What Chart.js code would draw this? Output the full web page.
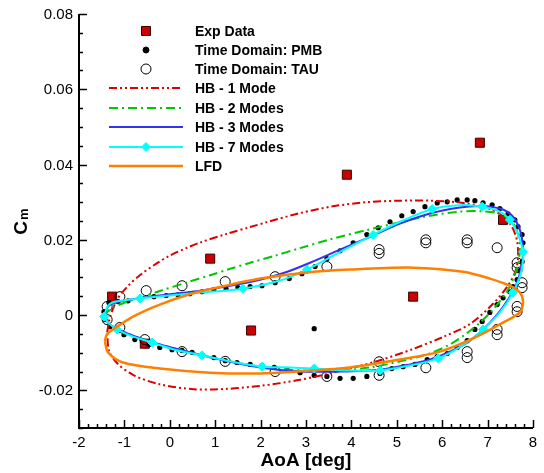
<!DOCTYPE html>
<html>
<head>
<meta charset="utf-8">
<script src="https://cdn.jsdelivr.net/npm/chart.js@4/dist/chart.umd.min.js"></script>
<style>
  html, body { margin: 0; padding: 0; background: #fff; }
</style>
</head>
<body>
<canvas id="chart" width="544" height="473"></canvas>
<script>
//--- Data (AoA in deg, Cm).
const expAoA = [-1.27, -0.55, 0.89, 1.79, 3.90, 5.36, 6.83, 7.34];
const expCm = [0.0049, -0.0076, 0.0150, -0.0041, 0.0373, 0.0049, 0.0458, 0.0253];

const pmbAoA = [-1.45, -1.34, -1.14, -0.92, -0.66, -0.35, -0.08, 0.18, 0.44, 0.71, 0.97, 1.24, 1.50, 1.77, 2.03, 2.32, 2.63, 2.91, 3.20, 3.46, 3.75, 4.04, 4.34, 4.59, 4.85, 5.11, 5.36, 5.62, 5.89, 6.11, 6.33, 6.55, 6.72, 6.90, 7.10, 7.27, 7.45, 7.60, 7.67, 7.76, 7.78, 7.78, 7.76, 7.71, 7.65, 7.56, 7.49, 7.34, 7.21, 7.05, 6.88, 6.72, 6.55, 6.33, 6.11, 5.89, 5.67, 5.40, 5.14, 4.89, 4.63, 4.34, 4.04, 3.75, 3.46, 3.18, 2.87, 2.58, 2.30, 2.03, 1.77, 1.48, 1.22, 0.97, 0.73, 0.49, 0.27, 0.05, -0.22, -0.46, -0.77, -1.01, -1.32, -1.43, 3.18];
const pmbCm = [0.0009, 0.0033, 0.0036, 0.0038, 0.0044, 0.0049, 0.0052, 0.0054, 0.0057, 0.0062, 0.0068, 0.0070, 0.0073, 0.0076, 0.0078, 0.0086, 0.0097, 0.0110, 0.0129, 0.0150, 0.0171, 0.0192, 0.0214, 0.0232, 0.0248, 0.0264, 0.0275, 0.0288, 0.0298, 0.0301, 0.0306, 0.0306, 0.0304, 0.0298, 0.0293, 0.0283, 0.0269, 0.0253, 0.0235, 0.0214, 0.0192, 0.0166, 0.0142, 0.0118, 0.0094, 0.0076, 0.0062, 0.0046, 0.0028, 0.0007, -0.0017, -0.0038, -0.0068, -0.0086, -0.0102, -0.0110, -0.0118, -0.0131, -0.0137, -0.0142, -0.0155, -0.0163, -0.0168, -0.0168, -0.0163, -0.0160, -0.0153, -0.0145, -0.0139, -0.0134, -0.0131, -0.0126, -0.0121, -0.0113, -0.0107, -0.0099, -0.0094, -0.0092, -0.0086, -0.0078, -0.0065, -0.0052, -0.0031, -0.0012, -0.0036];

const tauAoA = [-1.38, -1.10, -0.52, 0.27, 1.22, 2.32, 3.46, 4.61, 4.61, 5.64, 5.64, 6.55, 6.55, 7.21, 7.65, 7.65, 7.76, 7.76, 7.65, 7.65, 7.21, 7.21, 6.55, 6.55, 5.64, 4.61, 4.61, 3.46, 2.32, 1.22, 0.27, -0.55, -1.10, -1.38];
const tauCm = [0.0023, 0.0049, 0.0065, 0.0078, 0.0089, 0.0102, 0.0129, 0.0174, 0.0164, 0.0200, 0.0192, 0.0200, 0.0192, 0.0179, 0.0139, 0.0126, 0.0086, 0.0073, 0.0023, 0.0009, -0.0038, -0.0052, -0.0097, -0.0113, -0.0140, -0.0124, -0.0160, -0.0163, -0.0150, -0.0123, -0.0097, -0.0065, -0.0033, -0.0012];

const hb1AoA = [-1.38, -1.32, -1.16, -0.94, -0.66, -0.28, 0.00, 0.38, 0.67, 1.26, 1.77, 2.14, 2.87, 3.59, 4.34, 5.07, 5.73, 6.46, 7.05, 7.34, 7.54, 7.65, 7.67, 7.60, 7.43, 7.12, 6.61, 6.02, 5.36, 4.63, 3.90, 2.87, 1.99, 1.26, 0.53, -0.22, -0.79, -1.16, -1.34, -1.38];
const hb1Cm = [-0.0046, -0.0007, 0.0041, 0.0075, 0.0106, 0.0138, 0.0158, 0.0179, 0.0193, 0.0216, 0.0234, 0.0247, 0.0271, 0.0289, 0.0300, 0.0304, 0.0304, 0.0298, 0.0282, 0.0262, 0.0234, 0.0196, 0.0150, 0.0112, 0.0075, 0.0030, -0.0024, -0.0058, -0.0090, -0.0120, -0.0144, -0.0172, -0.0188, -0.0196, -0.0197, -0.0184, -0.0160, -0.0128, -0.0094, -0.0046];

const hb2AoA = [-1.45, -1.32, -0.99, -0.66, -0.22, 0.38, 0.89, 1.33, 1.77, 2.32, 2.87, 3.53, 4.34, 5.07, 5.73, 6.39, 6.83, 7.27, 7.54, 7.67, 7.71, 7.67, 7.56, 7.38, 7.12, 6.83, 6.50, 6.17, 5.73, 5.07, 4.41, 3.75, 2.87, 1.99, 1.11, 0.22, -0.44, -0.99, -1.32, -1.45];
const hb2Cm = [-0.0004, 0.0015, 0.0033, 0.0046, 0.0064, 0.0087, 0.0106, 0.0123, 0.0139, 0.0158, 0.0178, 0.0201, 0.0226, 0.0247, 0.0264, 0.0275, 0.0276, 0.0269, 0.0248, 0.0214, 0.0174, 0.0134, 0.0094, 0.0054, 0.0015, -0.0020, -0.0052, -0.0078, -0.0102, -0.0123, -0.0139, -0.0147, -0.0147, -0.0137, -0.0118, -0.0092, -0.0070, -0.0046, -0.0025, -0.0004];

const hb3AoA = [-1.45, -1.36, -1.21, -0.88, -0.44, 0.11, 0.67, 1.33, 1.99, 2.54, 3.09, 3.75, 4.41, 5.07, 5.73, 6.39, 6.83, 7.27, 7.54, 7.71, 7.78, 7.74, 7.63, 7.45, 7.21, 6.90, 6.55, 6.17, 5.73, 5.29, 4.63, 3.75, 2.87, 1.99, 1.11, 0.22, -0.44, -0.99, -1.32, -1.45];
const hb3Cm = [-0.0004, 0.0023, 0.0033, 0.0041, 0.0049, 0.0057, 0.0065, 0.0078, 0.0094, 0.0113, 0.0139, 0.0174, 0.0208, 0.0243, 0.0270, 0.0286, 0.0290, 0.0283, 0.0264, 0.0227, 0.0174, 0.0126, 0.0081, 0.0041, 0.0001, -0.0038, -0.0073, -0.0097, -0.0118, -0.0131, -0.0145, -0.0150, -0.0150, -0.0139, -0.0118, -0.0092, -0.0070, -0.0046, -0.0025, -0.0004];

const hb7AoA = [-1.45, -1.36, -1.19, -0.66, 0.00, 0.67, 1.61, 2.43, 3.02, 3.75, 4.48, 5.07, 5.78, 6.39, 6.88, 7.27, 7.49, 7.67, 7.78, 7.74, 7.56, 7.27, 6.90, 6.44, 5.91, 5.29, 4.63, 3.86, 3.18, 2.65, 2.03, 1.33, 0.71, 0.11, -0.39, -0.88, -1.16, -1.36, -1.45];
const hb7Cm = [-0.0004, 0.0025, 0.0036, 0.0044, 0.0052, 0.0060, 0.0070, 0.0092, 0.0121, 0.0168, 0.0213, 0.0248, 0.0282, 0.0292, 0.0288, 0.0275, 0.0253, 0.0214, 0.0168, 0.0115, 0.0060, 0.0007, -0.0038, -0.0081, -0.0115, -0.0134, -0.0147, -0.0147, -0.0142, -0.0139, -0.0137, -0.0123, -0.0107, -0.0092, -0.0073, -0.0054, -0.0038, -0.0020, -0.0004];
// points of the HB - 7 curve that carry a diamond
const hb7Marked = [0, 3, 6, 8, 10, 12, 14, 16, 18, 20, 22, 24, 26, 28, 30, 32, 34, 36];

const lfdAoA = [-1.43, -1.39, -1.25, -0.81, -0.22, 0.51, 1.26, 1.99, 3.02, 3.97, 5.36, 6.46, 7.05, 7.49, 7.71, 7.78, 7.71, 7.34, 6.68, 5.95, 5.07, 3.97, 2.87, 1.99, 0.89, -0.22, -1.03, -1.36, -1.43];
const lfdCm = [-0.0070, -0.0052, -0.0038, -0.0004, 0.0028, 0.0058, 0.0079, 0.0097, 0.0113, 0.0121, 0.0126, 0.0115, 0.0097, 0.0078, 0.0060, 0.0036, 0.0007, -0.0020, -0.0062, -0.0097, -0.0118, -0.0139, -0.0149, -0.0155, -0.0153, -0.0142, -0.0126, -0.0099, -0.0070];

const xTickValues = [-2, -1, 0, 1, 2, 3, 4, 5, 6, 7, 8];
const xTickLabels = ['-2', '-1', '0', '1', '2', '3', '4', '5', '6', '7', '8'];
const yTickValues = [-0.02, 0, 0.02, 0.04, 0.06, 0.08];
const yTickLabels = ['-0.02', '0', '0.02', '0.04', '0.06', '0.08'];

const seriesNames = ['Exp Data', 'Time Domain: PMB', 'Time Domain: TAU', 'HB - 1 Mode', 'HB - 2 Modes', 'HB - 3 Modes', 'HB - 7 Modes', 'LFD'];

function pairs(xs, ys) {
  return xs.map((v, i) => ({ x: v, y: ys[i] }));
}

const FONT = '"Liberation Sans", Arial, sans-serif';

//--- Tecplot-like axes, titles and legend.
const tecplotFrame = {
  id: 'tecplotFrame',
  afterDraw(chart) {
    const { ctx, chartArea, scales } = chart;
    const xs = scales.x;
    const ys = scales.y;

    ctx.save();
    ctx.strokeStyle = '#000';

    // Minor / major ticks, pointing into the plot.
    ctx.lineWidth = 1.5;
    ctx.beginPath();
    for (let i = 0; i <= 50; i++) {
      const px = Math.round(xs.getPixelForValue(-2 + i * 0.2)) + 0.5;
      const len = i % 5 === 0 ? 8 : 4;
      ctx.moveTo(px, chartArea.bottom);
      ctx.lineTo(px, chartArea.bottom - len);
    }
    for (let i = 0; i <= 22; i++) {
      const py = Math.round(ys.getPixelForValue(-0.03 + i * 0.005)) + 0.5;
      const len = i % 4 === 2 ? 8 : 4;
      ctx.moveTo(chartArea.left, py);
      ctx.lineTo(chartArea.left + len, py);
    }
    ctx.stroke();

    // Axis lines.
    ctx.lineWidth = 2;
    ctx.beginPath();
    ctx.moveTo(chartArea.left, chartArea.top);
    ctx.lineTo(chartArea.left, chartArea.bottom);
    ctx.lineTo(chartArea.right, chartArea.bottom);
    ctx.stroke();

    // Tick labels.
    ctx.fillStyle = '#000';
    ctx.font = '15px ' + FONT;
    ctx.textAlign = 'center';
    ctx.textBaseline = 'alphabetic';
    xTickValues.forEach((v, i) => {
      ctx.fillText(xTickLabels[i], xs.getPixelForValue(v), chartArea.bottom + 19);
    });
    ctx.textAlign = 'right';
    yTickValues.forEach((v, i) => {
      ctx.fillText(yTickLabels[i], chartArea.left - 6, ys.getPixelForValue(v) + 5);
    });

    // Axis titles.
    ctx.font = 'bold 19px ' + FONT;
    ctx.textAlign = 'center';
    ctx.fillText('AoA [deg]', (chartArea.left + chartArea.right) / 2, 466);

    ctx.save();
    ctx.translate(27, 222);
    ctx.rotate(-Math.PI / 2);
    ctx.textAlign = 'left';
    ctx.font = 'bold 19px ' + FONT;
    const wC = ctx.measureText('C').width;
    ctx.font = 'bold 13px ' + FONT;
    const wm = ctx.measureText('m').width;
    const start = -(wC + wm) / 2;
    ctx.font = 'bold 19px ' + FONT;
    ctx.fillText('C', start, 0);
    ctx.font = 'bold 13px ' + FONT;
    ctx.fillText('m', start + wC + 1, 1);
    ctx.restore();

    // Legend.
    const rows = [31, 50, 69, 88, 108, 127, 147, 166];
    const x0 = 109, x1 = 183, xm = 146;
    const sets = chart.data.datasets;
    ctx.font = 'bold 14px ' + FONT;
    ctx.textAlign = 'left';
    seriesNames.forEach((name, i) => {
      const y = rows[i];
      const ds = sets.find(d => d.label === name);
      if (ds.showLine) {
        ctx.save();
        ctx.strokeStyle = ds.borderColor;
        ctx.lineWidth = ds.borderWidth;
        ctx.setLineDash(ds.borderDash || []);
        ctx.beginPath();
        ctx.moveTo(x0, y);
        ctx.lineTo(x1, y);
        ctx.stroke();
        ctx.restore();
      }
      const style = ds.legendMarker;
      if (style) {
        ctx.save();
        ctx.fillStyle = ds.pointBackgroundColor;
        ctx.strokeStyle = ds.pointBorderColor;
        ctx.lineWidth = 1;
        ctx.beginPath();
        if (style === 'rect') {
          ctx.rect(xm - 4.5, y - 4.5, 9, 9);
        } else if (style === 'rectRot') {
          ctx.moveTo(xm, y - 4.5);
          ctx.lineTo(xm + 4.5, y);
          ctx.lineTo(xm, y + 4.5);
          ctx.lineTo(xm - 4.5, y);
          ctx.closePath();
        } else {
          ctx.arc(xm, y, style === 'dot' ? 3 : 5, 0, Math.PI * 2);
        }
        ctx.fill();
        ctx.stroke();
        ctx.restore();
      }
      ctx.fillStyle = '#000';
      ctx.fillText(name, 195, y + 5);
    });

    ctx.restore();
  }
};

new Chart(document.getElementById('chart'), {
  type: 'scatter',
  data: {
    datasets: [
      {
        label: 'LFD',
        data: pairs(lfdAoA, lfdCm),
        showLine: true,
        borderColor: '#ff8000',
        borderWidth: 2.5,
        tension: 0.3,
        pointRadius: 0,
        order: 1
      },
      {
        label: 'HB - 7 Modes',
        data: pairs(hb7AoA, hb7Cm),
        showLine: true,
        borderColor: '#00ffff',
        borderWidth: 2,
        tension: 0.3,
        pointStyle: 'rectRot',
        pointRadius: ctx => hb7Marked.includes(ctx.dataIndex) ? 4.5 : 0,
        pointBackgroundColor: '#00ffff',
        pointBorderColor: '#00ffff',
        pointBorderWidth: 1,
        legendMarker: 'rectRot',
        order: 2
      },
      {
        label: 'HB - 3 Modes',
        data: pairs(hb3AoA, hb3Cm),
        showLine: true,
        borderColor: '#3333ee',
        borderWidth: 2,
        tension: 0.3,
        pointRadius: 0,
        order: 3
      },
      {
        label: 'HB - 2 Modes',
        data: pairs(hb2AoA, hb2Cm),
        showLine: true,
        borderColor: '#00c800',
        borderWidth: 2,
        borderDash: [9, 4, 2, 4],
        tension: 0.3,
        pointRadius: 0,
        order: 4
      },
      {
        label: 'HB - 1 Mode',
        data: pairs(hb1AoA, hb1Cm),
        showLine: true,
        borderColor: '#dd0000',
        borderWidth: 2,
        borderDash: [8, 3, 2, 3, 2, 3],
        tension: 0.3,
        pointRadius: 0,
        order: 5
      },
      {
        label: 'Time Domain: TAU',
        data: pairs(tauAoA, tauCm),
        pointStyle: 'circle',
        pointRadius: 5,
        pointBackgroundColor: 'rgba(255,255,255,0)',
        pointBorderColor: '#000',
        pointBorderWidth: 1,
        legendMarker: 'circle',
        order: 6
      },
      {
        label: 'Time Domain: PMB',
        data: pairs(pmbAoA, pmbCm),
        pointStyle: 'circle',
        pointRadius: 2.6,
        pointBackgroundColor: '#000',
        pointBorderColor: '#000',
        pointBorderWidth: 0,
        legendMarker: 'dot',
        order: 7
      },
      {
        label: 'Exp Data',
        data: pairs(expAoA, expCm),
        pointStyle: 'rect',
        pointRadius: 6.4,
        pointBackgroundColor: '#cc0000',
        pointBorderColor: '#3a0000',
        pointBorderWidth: 1,
        legendMarker: 'rect',
        order: 8
      }
    ]
  },
  options: {
    responsive: false,
    animation: false,
    layout: {
      padding: { top: 14, right: 11, left: 0, bottom: 0 }
    },
    scales: {
      x: {
        type: 'linear',
        min: -2,
        max: 8,
        grid: { display: false },
        border: { display: false },
        ticks: { display: false },
        afterFit(scale) { scale.height = 45; }
      },
      y: {
        type: 'linear',
        min: -0.03,
        max: 0.08,
        grid: { display: false },
        border: { display: false },
        ticks: { display: false },
        afterFit(scale) { scale.width = 79; }
      }
    },
    plugins: {
      legend: { display: false },
      tooltip: { enabled: false }
    }
  },
  plugins: [tecplotFrame]
});
</script>
</body>
</html>
